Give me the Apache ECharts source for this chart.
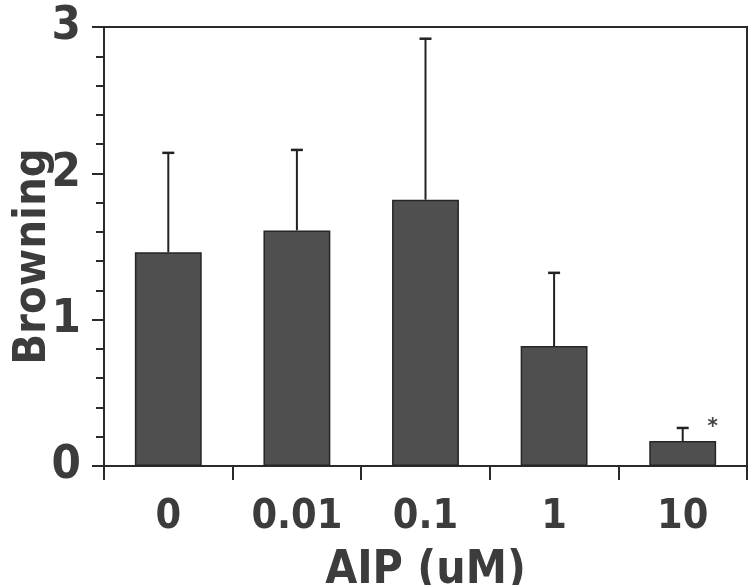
<!DOCTYPE html>
<html lang="en" style="height: 100%">
<head>
  <meta charset="utf-8">
</head>
<body style="height: 100%; margin: 0; background: #fff">
  <div id="container" style="width: 749px; height: 585px"></div>

  <script type="text/javascript" src="https://cdn.jsdelivr.net/npm/echarts@6/dist/echarts.min.js"></script>
  <script type="text/javascript">
    // AIP concentrations (uM) and browning scores
    var categories = ['0', '0.01', '0.1', '1', '10'];
    var means = [1.46, 1.61, 1.82, 0.82, 0.17];
    var upperErr = [2.14, 2.16, 2.92, 1.32, 0.26];
    var marks = ['', '', '', '', '*'];
    var yTicks = [0, 1, 2, 3];

    var font = '"DejaVu Sans Condensed", "DejaVu Sans", sans-serif';
    var ink = '#3c3c3c';

    var dom = document.getElementById('container');
    var myChart = echarts.init(dom, null, { renderer: 'canvas' });

    var option = {
      animation: false,
      backgroundColor: '#fff',
      grid: {
        left: 104,
        right: 2,
        top: 27,
        bottom: 119,
        outerBoundsMode: 'none',
        containLabel: false,
        show: true,
        borderColor: '#2a2a2a',
        borderWidth: 2,
        backgroundColor: 'transparent'
      },
      xAxis: {
        type: 'category',
        data: categories,
        name: 'AIP (uM)',
        nameLocation: 'middle',
        nameMoveOverlap: false,
        nameGap: 82,
        nameTextStyle: {
          fontFamily: font, fontWeight: 'bold', fontSize: 46, color: ink,
          verticalAlign: 'top'
        },
        axisLine: { lineStyle: { color: '#2a2a2a', width: 2 } },
        axisTick: { show: true, length: 14, inside: false, lineStyle: { color: '#2a2a2a', width: 2 } },
        axisLabel: {
          interval: 0,
          fontFamily: font, fontWeight: 'bold', fontSize: 41, color: ink,
          margin: 31
        },
        splitLine: { show: false }
      },
      yAxis: {
        type: 'value',
        min: yTicks[0],
        max: yTicks[yTicks.length - 1],
        interval: 1,
        name: 'Browning',
        nameLocation: 'middle',
        nameMoveOverlap: false,
        nameGap: 48,
        nameTextStyle: {
          fontFamily: font, fontWeight: 'bold', fontSize: 45, color: ink,
          padding: [0, 20, 0, 0]
        },
        axisLine: { show: true, lineStyle: { color: '#2a2a2a', width: 2 } },
        axisTick: { show: true, length: 12, lineStyle: { color: '#2a2a2a', width: 2 } },
        minorTick: { show: true, splitNumber: 5, length: 8, lineStyle: { color: '#2a2a2a', width: 2 } },
        axisLabel: {
          fontFamily: font, fontWeight: 'bold', fontSize: 47, color: ink,
          margin: 23
        },
        splitLine: { show: false }
      },
      series: [
        {
          type: 'bar',
          data: means,
          barWidth: '52%',
          itemStyle: { color: '#4f4f4f', borderColor: '#262626', borderWidth: 1.5 }
        },
        {
          type: 'custom',
          data: means.map(function (m, i) { return [i, m, upperErr[i]]; }),
          z: 3,
          renderItem: function (params, api) {
            var x = api.coord([api.value(0), 0])[0];
            var yBot = api.coord([api.value(0), api.value(1)])[1];
            var yTop = api.coord([api.value(0), api.value(2)])[1];
            var cap = 6;
            var children = [
              { type: 'line', shape: { x1: x, y1: yBot, x2: x, y2: yTop },
                style: { stroke: '#222', lineWidth: 2 } },
              { type: 'line', shape: { x1: x - cap, y1: yTop, x2: x + cap, y2: yTop },
                style: { stroke: '#222', lineWidth: 2.5 } }
            ];
            var mark = marks[params.dataIndex];
            if (mark) {
              children.push({
                type: 'text',
                style: {
                  text: mark, x: x + 30, y: yTop - 12,
                  fill: '#444', font: 'bold 22px ' + font,
                  textAlign: 'center'
                }
              });
            }
            return { type: 'group', children: children };
          }
        }
      ]
    };

    myChart.setOption(option);
    window.addEventListener('resize', myChart.resize);
  </script>
</body>
</html>
